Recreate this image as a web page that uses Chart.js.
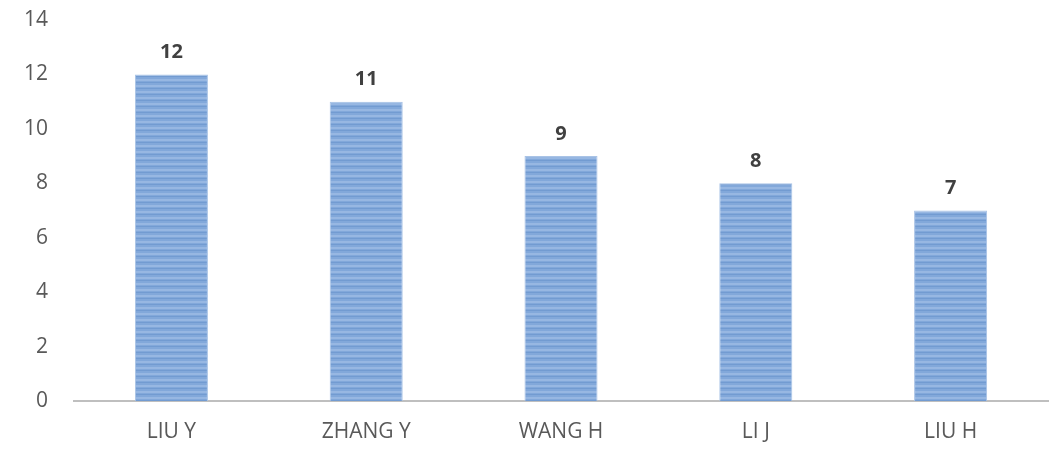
<!DOCTYPE html>
<html>
<head>
<meta charset="utf-8">
<script src="https://cdn.jsdelivr.net/npm/chart.js@4.4.0/dist/chart.umd.min.js"></script>
<style>
  html, body { margin: 0; padding: 0; background: #fff; }
  #wrap { width: 1064px; height: 453px; }
</style>
</head>
<body>
<div id="wrap"><canvas id="chart"></canvas></div>
<script>
const categories = ['LIU Y', 'ZHANG Y', 'WANG H', 'LI J', 'LIU H'];
const counts = [12, 11, 9, 8, 7];
const yTicks = [0, 2, 4, 6, 8, 10, 12, 14];

// striped fill like the original
function makeStripes() {
    const c = document.createElement('canvas');
    c.width = 4; c.height = 6;
    const g = c.getContext('2d');
    g.fillStyle = '#82a8da';
    g.fillRect(0, 0, 4, 6);
    g.fillStyle = '#97b7e2';
    g.fillRect(0, 1, 4, 2);
    g.fillStyle = '#729bd1';
    g.fillRect(0, 4, 4, 1);
    return g.createPattern(c, 'repeat');
}

const valueLabels = {
    id: 'valueLabels',
    afterDatasetsDraw(chart) {
        const ctx = chart.ctx;
        ctx.save();
        ctx.font = 'bold 20px "Open Sans", sans-serif';
        ctx.fillStyle = '#404040';
        ctx.textAlign = 'center';
        ctx.textBaseline = 'bottom';
        chart.getDatasetMeta(0).data.forEach((bar, i) => {
            ctx.fillText(counts[i], bar.x, bar.y - 12);
        });
        ctx.restore();
    }
};

new Chart(document.getElementById('chart').getContext('2d'), {
    type: 'bar',
    data: {
        labels: categories,
        datasets: [{
            data: counts,
            backgroundColor: makeStripes(),
            borderColor: '#a9c3e6',
            borderWidth: 1,
            categoryPercentage: 1,
            barPercentage: 0.375
        }]
    },
    options: {
        responsive: true, maintainAspectRatio: false,
        animation: false,
        layout: { padding: { top: 0, right: 16, left: -2, bottom: 9 } },
        scales: {
            y: {
                min: 0, max: 14,
                afterBuildTicks: axis => { axis.ticks = yTicks.map(v => ({ value: v })); },
                afterFit: axis => { axis.paddingTop = 20; axis.paddingBottom = 0; },
                grid: { display: false, drawTicks: false },
                border: { display: false },
                ticks: { color: '#595959', font: { size: 21, family: '"Open Sans", sans-serif' }, padding: 26 }
            },
            x: {
                afterFit: axis => { axis.height = 43; },
                grid: { display: false, drawTicks: false },
                border: { display: true, color: '#bfbfbf', width: 2 },
                ticks: { color: '#595959', font: { size: 21, family: '"Open Sans", sans-serif' }, padding: 18 }
            }
        },
        plugins: { legend: { display: false }, tooltip: { enabled: false } }
    },
    plugins: [valueLabels]
});
</script>
</body>
</html>
